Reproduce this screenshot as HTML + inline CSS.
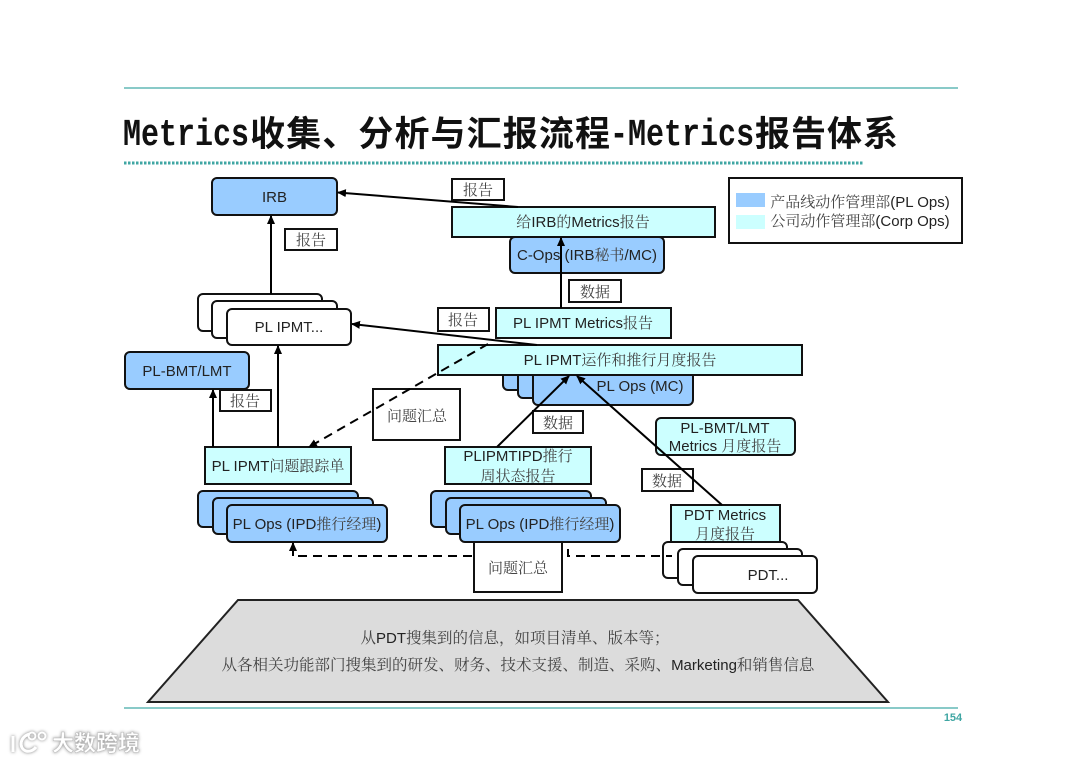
<!DOCTYPE html>
<html lang="zh"><head><meta charset="utf-8"><title>Metrics报告体系</title>
<style>
html,body{margin:0;padding:0;background:#fff}
svg{display:block}
text{font-family:"Liberation Sans","Noto Serif CJK SC",sans-serif;font-size:15px;fill:#222;text-anchor:middle}
.z{font-family:"Noto Serif CJK SC","Liberation Serif",serif;fill:#444;font-size:15px}
.t{font-size:38px;font-weight:700;font-family:"Liberation Mono",monospace;fill:#111;text-anchor:start}
.c{font-size:35px;font-weight:700;font-family:"Noto Sans CJK SC",sans-serif;fill:#111;text-anchor:start}
.b{fill:#99ccff;stroke:#111;stroke-width:2}
.w{fill:#fff;stroke:#111;stroke-width:2}
.y{fill:#ccffff;stroke:#111;stroke-width:2}
.l{stroke:#000;stroke-width:2;fill:none}
.d{stroke:#000;stroke-width:2;fill:none;stroke-dasharray:9 6}
.big{font-size:15.500px}
</style></head><body>
<svg width="1080" height="763" viewBox="0 0 1080 763" xmlns="http://www.w3.org/2000/svg">
<defs><marker id="a" markerUnits="userSpaceOnUse" markerWidth="10" markerHeight="10" refX="8" refY="4" orient="auto"><path d="M0 0L9 4L0 8Z" fill="#000"/></marker></defs>
<line x1="124" y1="88" x2="958" y2="88" stroke="#62b9b6" stroke-width="1.5"/>
<line x1="124" y1="708" x2="958" y2="708" stroke="#62b9b6" stroke-width="1.5"/>
<line x1="124" y1="163" x2="864" y2="163" stroke="#3fa6a3" stroke-width="3" stroke-dasharray="2.5 1.5"/>
<text class="t" transform="translate(123 145) scale(.79 1)">Metrics</text>
<text class="c" x="250" y="146" textLength="360" lengthAdjust="spacing">收集、分析与汇报流程</text>
<text class="t" transform="translate(610 145) scale(.79 1)">-Metrics</text>
<text class="c" x="755" y="146" textLength="143" lengthAdjust="spacing">报告体系</text>

<rect class="b" x="212" y="178" width="125" height="37" rx="5"/>
<text x="274.5" y="202">IRB</text>
<rect class="w" x="452" y="179" width="52" height="21"/>
<text class="z" x="478" y="195">报告</text>
<rect class="w" x="285" y="229" width="52" height="21"/>
<text class="z" x="311" y="245">报告</text>

<rect class="b" x="510" y="237" width="154" height="36" rx="5"/>
<text x="587" y="260">C-Ops (IRB<tspan class="z">秘书</tspan>/MC)</text>
<rect class="y" x="452" y="207" width="263" height="30"/>
<text x="583" y="227"><tspan class="z">给</tspan>IRB<tspan class="z">的</tspan>Metrics<tspan class="z">报告</tspan></text>

<rect class="w" x="729" y="178" width="233" height="65"/>
<rect x="736" y="193" width="29" height="14" fill="#99ccff"/>
<rect x="736" y="215" width="29" height="14" fill="#ccffff"/>
<text x="860" y="207"><tspan class="z">产品线动作管理部</tspan>(PL Ops)</text>
<text x="860" y="226"><tspan class="z">公司动作管理部</tspan>(Corp Ops)</text>

<rect class="w" x="198" y="294" width="124" height="37" rx="5"/>
<rect class="w" x="212" y="301" width="125" height="37" rx="5"/>
<rect class="w" x="227" y="309" width="124" height="36" rx="5"/>
<text x="289" y="332">PL IPMT...</text>

<rect class="w" x="569" y="280" width="52" height="22"/>
<text class="z" x="595" y="297">数据</text>
<rect class="w" x="438" y="308" width="51" height="23"/>
<text class="z" x="463" y="325">报告</text>
<rect class="y" x="496" y="308" width="175" height="30"/>
<text x="583" y="328">PL IPMT Metrics<tspan class="z">报告</tspan></text>

<rect class="b" x="503" y="360" width="160" height="30" rx="5"/>
<rect class="b" x="518" y="365" width="160" height="33" rx="5"/>
<rect class="b" x="533" y="370" width="160" height="35" rx="5"/>
<text x="640" y="391">PL Ops (MC)</text>
<rect class="y" x="438" y="345" width="364" height="30"/>
<text x="620" y="365">PL IPMT<tspan class="z">运作和推行月度报告</tspan></text>

<rect class="b" x="125" y="352" width="124" height="37" rx="5"/>
<text x="187" y="376">PL-BMT/LMT</text>
<rect class="w" x="220" y="390" width="51" height="21"/>
<text class="z" x="245" y="406">报告</text>

<rect class="w" x="373" y="389" width="87" height="51"/>
<text class="z" x="417" y="421">问题汇总</text>
<rect class="w" x="533" y="411" width="50" height="22"/>
<text class="z" x="558" y="428">数据</text>

<rect x="656" y="418" width="139" height="37" rx="5" class="y"/>
<text x="725" y="433">PL-BMT/LMT</text>
<text x="725" y="451">Metrics <tspan class="z">月度报告</tspan></text>

<rect class="y" x="205" y="447" width="146" height="37"/>
<text x="278" y="471">PL IPMT<tspan class="z">问题跟踪单</tspan></text>
<rect class="y" x="445" y="447" width="146" height="37"/>
<text x="518" y="461">PLIPMTIPD<tspan class="z">推行</tspan></text>
<text class="z" x="518" y="481">周状态报告</text>
<rect class="w" x="642" y="469" width="51" height="22"/>
<text class="z" x="667" y="486">数据</text>

<rect class="b" x="198" y="491" width="160" height="36" rx="5"/>
<rect class="b" x="213" y="498" width="160" height="36" rx="5"/>
<rect class="b" x="227" y="505" width="160" height="37" rx="5"/>
<text x="307" y="529">PL Ops (IPD<tspan class="z">推行经理</tspan>)</text>
<rect class="b" x="431" y="491" width="160" height="36" rx="5"/>
<rect class="b" x="446" y="498" width="160" height="36" rx="5"/>
<rect class="b" x="460" y="505" width="160" height="37" rx="5"/>
<text x="540" y="529">PL Ops (IPD<tspan class="z">推行经理</tspan>)</text>

<rect class="w" x="474" y="542" width="88" height="50"/>
<text class="z" x="518" y="573">问题汇总</text>

<rect class="y" x="671" y="505" width="109" height="37"/>
<text x="725" y="520">PDT Metrics</text>
<text class="z" x="725" y="539">月度报告</text>
<rect class="w" x="663" y="542" width="124" height="36" rx="5"/>
<rect class="w" x="678" y="549" width="124" height="36" rx="5"/>
<rect class="w" x="693" y="556" width="124" height="37" rx="5"/>
<text x="768" y="580">PDT...</text>

<path d="M238 600H798L888 702H148Z" fill="#dcdcdc" stroke="#222" stroke-width="2"/>
<text x="515" y="643"><tspan class="z big">从</tspan>PDT<tspan class="z big">搜集到的信息，如项目清单、版本等；</tspan></text>
<text x="518" y="670"><tspan class="z big">从各相关功能部门搜集到的研发、财务、技术支援、制造、采购、</tspan>Marketing<tspan class="z big">和销售信息</tspan></text>

<path class="l" d="M271 294V216" marker-end="url(#a)"/>
<path class="l" d="M518 207L338 192.500" marker-end="url(#a)"/>
<path class="l" d="M537 345L352 324" marker-end="url(#a)"/>
<path class="l" d="M561 308V238" marker-end="url(#a)"/>
<path class="l" d="M213 447V390" marker-end="url(#a)"/>
<path class="l" d="M278 447V346" marker-end="url(#a)"/>
<path class="l" d="M497 447L569 376" marker-end="url(#a)"/>
<path class="l" d="M722 505L577 376" marker-end="url(#a)"/>
<path class="d" d="M488 344L309 447" marker-end="url(#a)"/>
<path class="d" d="M472 556H293"/>
<path class="l" d="M293 556V543" marker-end="url(#a)"/>
<path class="d" d="M568 549V556H672"/>

<text x="953" y="721" style="font-size:11px;font-weight:700;fill:#3fa6a3">154</text>
<g fill="none" stroke="#fff" stroke-width="3" style="filter:drop-shadow(0 0 1.5px #777)">
<path d="M13 736V752M30 734C20 736 18 748 26 751C30 752 34 750 36 747"/>
<circle cx="32" cy="736" r="3.500" stroke-width="2"/><circle cx="42" cy="736" r="3.500" stroke-width="2"/>
</g>
<text x="96" y="751" style="font-size:22px;font-weight:700;font-family:'Noto Sans CJK SC',sans-serif;fill:#fff;stroke:#bbb;stroke-width:.5;filter:drop-shadow(0 0 1.5px #999)">大数跨境</text>
</svg>
</body></html>
